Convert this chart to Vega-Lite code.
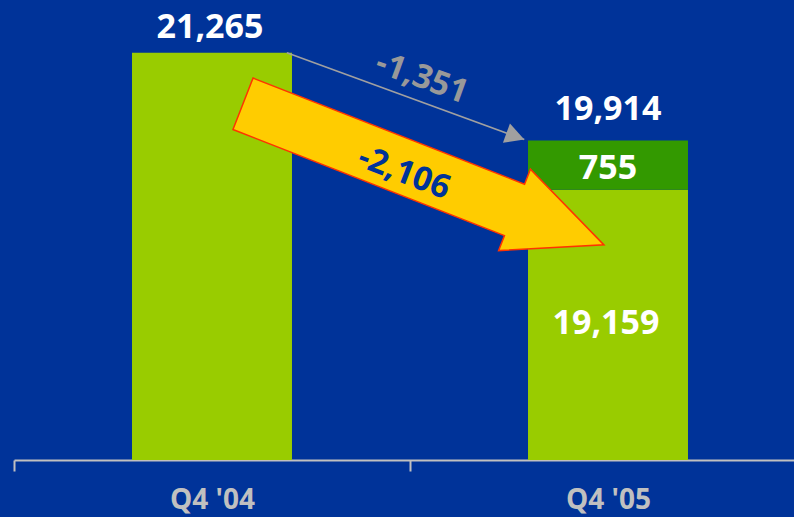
{
  "$schema": "https://vega.github.io/schema/vega-lite/v6.json",
  "width": 780,
  "height": 455,
  "autosize": {"type": "none"},
  "padding": {"left": 14, "top": 5, "right": 0, "bottom": 57},
  "background": "#003399",
  "config": {
    "view": {"stroke": null},
    "font": "Open Sans",
    "axis": {
      "domainColor": "#c0c0c0", "domainWidth": 2,
      "tickColor": "#c0c0c0", "tickWidth": 2, "tickSize": 11,
      "labelColor": "#c0c0c0", "labelFont": "Open Sans", "labelFontSize": 28,
      "labelFontWeight": "bold", "labelPadding": 15, "grid": false, "title": null
    }
  },
  "datasets": {
    "bars": [
      {"period": "Q4 '04", "segment": "base", "order": 1, "value": 21265},
      {"period": "Q4 '05", "segment": "base", "order": 1, "value": 19159},
      {"period": "Q4 '05", "segment": "new", "order": 2, "value": 755}
    ],
    "totals": [
      {"period": "Q4 '04", "total": 21265},
      {"period": "Q4 '05", "total": 19914}
    ]
  },
  "resolve": {"scale": {"x": "independent"}, "axis": {"x": "independent"}},
  "layer": [
    {
      "data": {"name": "bars"},
      "mark": {"type": "bar", "width": {"band": 0.404}, "clip": true},
      "encoding": {
        "x": {"field": "period", "type": "nominal", "sort": null,
              "scale": {"range": [0, 792], "paddingInner": 0, "paddingOuter": 0},
              "axis": {"labelAngle": 0, "tickBand": "extent"}},
        "y": {"field": "value", "type": "quantitative", "stack": "zero",
              "scale": {"domain": [15000, 22000], "zero": false, "nice": false}, "axis": null},
        "order": {"field": "order"},
        "color": {"field": "segment", "type": "nominal",
                  "scale": {"domain": ["base", "new"], "range": ["#99cc00", "#339900"]}, "legend": null}
      }
    },
    {
      "data": {"name": "totals"},
      "transform": [{"filter": "datum.period === \"Q4 '04\""}],
      "mark": {"type": "text", "baseline": "alphabetic", "dy": -15, "dx": -2, "fontSize": 34, "fontWeight": "bold", "color": "white"},
      "encoding": {
        "x": {"field": "period", "type": "nominal",
              "scale": {"domain": ["Q4 '04", "Q4 '05"], "range": [0, 792], "paddingInner": 0, "paddingOuter": 0}, "axis": null},
        "y": {"field": "total", "type": "quantitative"},
        "text": {"field": "total", "type": "quantitative", "format": ","}
      }
    },
    {
      "data": {"name": "totals"},
      "transform": [{"filter": "datum.period === \"Q4 '05\""}],
      "mark": {"type": "text", "baseline": "alphabetic", "dy": -21, "fontSize": 34, "fontWeight": "bold", "color": "white"},
      "encoding": {
        "x": {"field": "period", "type": "nominal",
              "scale": {"domain": ["Q4 '04", "Q4 '05"], "range": [0, 792], "paddingInner": 0, "paddingOuter": 0}, "axis": null},
        "y": {"field": "total", "type": "quantitative"},
        "text": {"field": "total", "type": "quantitative", "format": ","}
      }
    },
    {
      "data": {"name": "bars"},
      "transform": [{"filter": "datum.period === \"Q4 '05\" && datum.segment === 'base'"}],
      "mark": {"type": "text", "baseline": "alphabetic", "dy": 144, "dx": -2, "fontSize": 34, "fontWeight": "bold", "color": "white"},
      "encoding": {
        "x": {"field": "period", "type": "nominal",
              "scale": {"domain": ["Q4 '04", "Q4 '05"], "range": [0, 792], "paddingInner": 0, "paddingOuter": 0}, "axis": null},
        "y": {"field": "value", "type": "quantitative"},
        "text": {"field": "value", "type": "quantitative", "format": ","}
      }
    },
    {
      "data": {"name": "totals"},
      "transform": [{"filter": "datum.period === \"Q4 '05\""}],
      "mark": {"type": "text", "baseline": "alphabetic", "dy": 38, "fontSize": 34, "fontWeight": "bold", "color": "white", "text": "755"},
      "encoding": {
        "x": {"field": "period", "type": "nominal",
              "scale": {"domain": ["Q4 '04", "Q4 '05"], "range": [0, 792], "paddingInner": 0, "paddingOuter": 0}, "axis": null},
        "y": {"field": "total", "type": "quantitative"}
      }
    },
    {
      "data": {"values": [{"x": 0.689, "y": 21265, "x2": 1.2886, "y2": 19930}]},
      "mark": {"type": "rule", "color": "#a0a0a0", "strokeWidth": 1.5},
      "encoding": {
        "x": {"field": "x", "type": "quantitative", "scale": {"domain": [0, 2], "range": [0, 792], "nice": false, "zero": false}, "axis": null},
        "y": {"field": "y", "type": "quantitative"},
        "x2": {"field": "x2"},
        "y2": {"field": "y2"}
      }
    },
    {
      "data": {"values": [{"x": 1.2886, "y": 19930}]},
      "mark": {"type": "point", "shape": "M0,0L-1,-0.54L-1,0.54Z", "size": 1444, "angle": 20,
               "filled": true, "fill": "#a0a0a0", "stroke": null, "opacity": 1},
      "encoding": {
        "x": {"field": "x", "type": "quantitative", "scale": {"domain": [0, 2], "range": [0, 792], "nice": false, "zero": false}, "axis": null},
        "y": {"field": "y", "type": "quantitative"}
      }
    },
    {
      "data": {"values": [{"x": 1.030, "y": 20877, "label": "-1,351"}]},
      "mark": {"type": "text", "angle": 20, "align": "center", "baseline": "middle", "fontSize": 33, "fontWeight": "bold", "color": "#999999"},
      "encoding": {
        "x": {"field": "x", "type": "quantitative", "scale": {"domain": [0, 2], "range": [0, 792], "nice": false, "zero": false}, "axis": null},
        "y": {"field": "y", "type": "quantitative"},
        "text": {"field": "label"}
      }
    },
    {
      "data": {"values": [{"x": 1.034, "y": 19395}]},
      "mark": {"type": "point", "shape": "M-1,-0.1425L0.5045,-0.1425L0.5045,-0.2255L1,0L0.5045,0.2255L0.5045,0.1425L-1,0.1425Z",
               "size": 150156, "angle": 21.35, "filled": true, "fill": "#ffcc00", "stroke": "#ff3300", "strokeWidth": 1.5, "opacity": 1},
      "encoding": {
        "x": {"field": "x", "type": "quantitative", "scale": {"domain": [0, 2], "range": [0, 792], "nice": false, "zero": false}, "axis": null},
        "y": {"field": "y", "type": "quantitative"}
      }
    },
    {
      "data": {"values": [{"x": 0.985, "y": 19415, "label": "-2,106"}]},
      "mark": {"type": "text", "angle": 21, "align": "center", "baseline": "middle", "fontSize": 33, "fontWeight": "bold", "color": "#003399"},
      "encoding": {
        "x": {"field": "x", "type": "quantitative", "scale": {"domain": [0, 2], "range": [0, 792], "nice": false, "zero": false}, "axis": null},
        "y": {"field": "y", "type": "quantitative"},
        "text": {"field": "label"}
      }
    }
  ]
}
